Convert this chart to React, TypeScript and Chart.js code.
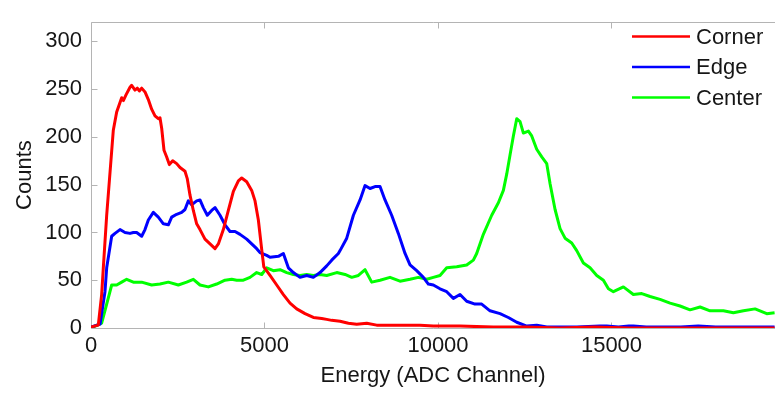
import React, { useEffect, useRef } from "react";
import { Chart, registerables } from "chart.js";

Chart.register(...registerables);

// ---- Data ----
const cornerEnergy = [0, 210, 307, 355, 452, 643, 740, 836, 884, 932, 1009, 1124, 1172, 1268, 1335, 1393, 1460, 1556, 1652, 1748, 1844, 1940, 1988, 2037, 2104, 2181, 2258, 2354, 2469, 2565, 2709, 2776, 2853, 2949, 3045, 3141, 3285, 3430, 3574, 3670, 3814, 3958, 4103, 4247, 4343, 4487, 4631, 4727, 4823, 4920, 4980, 5159, 5352, 5544, 5736, 5928, 6168, 6408, 6649, 6793, 6937, 7177, 7418, 7658, 7946, 8233, 8905, 9482, 9866, 10635, 11596, 12500, 13500, 14500, 15500, 16500, 19700];
const cornerCounts = [1, 3, 35, 63, 118, 207, 226, 236, 241, 238, 244, 252, 254, 249, 251, 248, 251, 247, 239, 229, 222, 219, 220, 209, 186, 179, 171, 175, 172, 168, 164, 156, 139, 123, 109, 103, 93, 88, 83, 88, 103, 123, 143, 154, 157, 153, 144, 133, 113, 82, 64, 55, 45, 35, 26, 20, 15, 11, 10, 9, 8, 7, 5, 4, 5, 3, 3, 3, 2, 2, 1, 1, 0, 1, 0, 0, 0];

const edgeEnergy = [0, 260, 403, 452, 596, 692, 836, 980, 1124, 1220, 1316, 1460, 1556, 1652, 1796, 1940, 2085, 2229, 2325, 2469, 2613, 2709, 2805, 2901, 3045, 3141, 3237, 3352, 3478, 3574, 3718, 3862, 4006, 4151, 4295, 4487, 4631, 4775, 4870, 5063, 5159, 5400, 5544, 5688, 5832, 6024, 6216, 6408, 6600, 6793, 6937, 7129, 7177, 7370, 7562, 7754, 7898, 8041, 8185, 8329, 8473, 8665, 8857, 9050, 9194, 9386, 9578, 9722, 9866, 10058, 10251, 10443, 10635, 10827, 11067, 11259, 11499, 11788, 12027, 12269, 12557, 12845, 13134, 14000, 14670, 14863, 15200, 15500, 15631, 16000, 17000, 17500, 18000, 19700];
const edgeCounts = [1, 4, 38, 63, 96, 99, 103, 100, 99, 100, 100, 96, 103, 113, 121, 116, 109, 108, 116, 119, 121, 124, 133, 129, 133, 134, 126, 118, 123, 126, 118, 108, 101, 101, 98, 93, 88, 83, 79, 76, 74, 75, 78, 63, 58, 53, 55, 53, 58, 65, 71, 78, 81, 94, 118, 134, 149, 146, 148, 148, 134, 118, 99, 78, 66, 60, 53, 46, 45, 41, 38, 31, 35, 28, 25, 25, 18, 15, 11, 6, 2, 3, 1, 1, 2, 2, 1, 2, 2, 1, 1, 2, 1, 1];

const centerEnergy = [0, 307, 452, 596, 740, 884, 1028, 1220, 1460, 1748, 1988, 2229, 2517, 2757, 2949, 3141, 3381, 3622, 3862, 4055, 4199, 4391, 4583, 4775, 4920, 5063, 5255, 5448, 5640, 5832, 6024, 6216, 6408, 6600, 6793, 7081, 7321, 7514, 7706, 7898, 8089, 8329, 8617, 8905, 9194, 9434, 9674, 9866, 10058, 10251, 10539, 10827, 11019, 11115, 11307, 11548, 11740, 11884, 11980, 12076, 12172, 12269, 12365, 12461, 12605, 12701, 12845, 12990, 13134, 13230, 13374, 13518, 13662, 13854, 13998, 14190, 14382, 14575, 14767, 14911, 15055, 15343, 15631, 15872, 16112, 16400, 16688, 16976, 17264, 17553, 17841, 18225, 18513, 18802, 19138, 19474, 19700];
const centerCounts = [0, 5, 25, 45, 45, 48, 51, 48, 48, 45, 46, 48, 45, 48, 51, 45, 43, 46, 50, 51, 50, 50, 53, 58, 56, 63, 60, 61, 58, 56, 55, 56, 55, 56, 55, 58, 56, 53, 55, 61, 48, 50, 53, 49, 51, 53, 51, 53, 55, 63, 64, 66, 71, 78, 98, 118, 131, 144, 161, 181, 201, 219, 216, 204, 206, 201, 187, 179, 172, 151, 124, 104, 94, 89, 81, 68, 63, 55, 50, 41, 38, 43, 35, 36, 33, 30, 26, 23, 19, 22, 18, 18, 16, 18, 20, 15, 16];

const seriesNames = ["Corner", "Edge", "Center"];
const seriesColors = ["#ff0000", "#0000ff", "#00ff00"];
const xTicks = [0, 5000, 10000, 15000];
const yTicks = [0, 50, 100, 150, 200, 250, 300];
const xTitle = "Energy (ADC Channel)";
const yTitle = "Counts";

const FONT = "'Liberation Sans', Arial, sans-serif";
const AXIS_COLOR = "#b4b4b4";
const TEXT_COLOR = "#161616";

function toPoints(xs: number[], ys: number[]) {
  return xs.map((x, i) => ({ x, y: ys[i] }));
}

export default function App() {
  const ref = useRef<HTMLCanvasElement>(null);

  useEffect(() => {
    if (!ref.current) return;

    const framePlugin = {
      id: "frame",
      beforeDatasetsDraw(chart: any) {
        const { ctx, chartArea } = chart;
        const xs = chart.scales.x;
        const ys = chart.scales.y;
        ctx.save();
        ctx.strokeStyle = AXIS_COLOR;
        ctx.lineWidth = 1;
        ctx.beginPath();
        const L = Math.round(chartArea.left) + 0.5;
        const T = Math.round(chartArea.top) + 0.5;
        const B = Math.round(chartArea.bottom) + 0.5;
        const R = chartArea.right + 1;
        ctx.moveTo(R, T);
        ctx.lineTo(L, T);
        ctx.lineTo(L, B);
        ctx.lineTo(R, B);
        const tl = 6;
        xTicks.forEach((v) => {
          const px = Math.round(xs.getPixelForValue(v)) + 0.5;
          ctx.moveTo(px, B);
          ctx.lineTo(px, B - tl);
          ctx.moveTo(px, T);
          ctx.lineTo(px, T + tl);
        });
        yTicks.forEach((v) => {
          const py = Math.round(ys.getPixelForValue(v)) + 0.5;
          ctx.moveTo(L, py);
          ctx.lineTo(L + tl, py);
        });
        ctx.stroke();
        ctx.restore();
      },
      afterDraw(chart: any) {
        const { ctx } = chart;
        ctx.save();
        ctx.font = `22px ${FONT}`;
        ctx.textBaseline = "middle";
        ctx.textAlign = "left";
        seriesNames.forEach((name, i) => {
          const y = 36.5 + i * 30.5;
          ctx.strokeStyle = seriesColors[i];
          ctx.lineWidth = 2.5;
          ctx.beginPath();
          ctx.moveTo(632, y);
          ctx.lineTo(690, y);
          ctx.stroke();
          ctx.fillStyle = TEXT_COLOR;
          ctx.fillText(name, 696, y + 1);
        });
        ctx.restore();
      },
    };

    const chart = new Chart(ref.current, {
      type: "line",
      data: {
        datasets: [
          { label: seriesNames[0], data: toPoints(cornerEnergy, cornerCounts) },
          { label: seriesNames[1], data: toPoints(edgeEnergy, edgeCounts) },
          { label: seriesNames[2], data: toPoints(centerEnergy, centerCounts) },
        ].map((d, i) => ({
          ...d,
          borderColor: seriesColors[i],
          backgroundColor: seriesColors[i],
          borderWidth: 3,
          pointRadius: 0,
          tension: 0,
          fill: false,
          borderJoinStyle: "round",
        })),
      },
      options: {
        responsive: false,
        animation: false,
        events: [],
        layout: { padding: { top: 8, left: 0, right: 0, bottom: 0 } },
        plugins: {
          legend: { display: false },
          tooltip: { enabled: false },
        },
        scales: {
          x: {
            type: "linear",
            min: 0,
            max: 19712,
            grid: { display: false, drawTicks: false },
            border: { display: false },
            afterBuildTicks: (scale: any) => {
              scale.ticks = xTicks.map((v) => ({ value: v }));
            },
            afterFit: (scale: any) => {
              scale.height = 67;
            },
            ticks: {
              color: TEXT_COLOR,
              font: { family: FONT, size: 22 },
              padding: 5,
              maxRotation: 0,
              autoSkip: false,
              callback: (v: any) => String(v),
            },
            title: {
              display: true,
              text: xTitle,
              color: TEXT_COLOR,
              font: { family: FONT, size: 22 },
              padding: { top: 0, bottom: 6 },
            },
          },
          y: {
            type: "linear",
            min: 0,
            max: 320,
            grid: { display: false, drawTicks: false },
            border: { display: false },
            afterBuildTicks: (scale: any) => {
              scale.ticks = yTicks.map((v) => ({ value: v }));
            },
            afterFit: (scale: any) => {
              scale.width = 91;
            },
            ticks: {
              color: TEXT_COLOR,
              font: { family: FONT, size: 22 },
              padding: 9,
              autoSkip: false,
              callback: (v: any) => String(v),
            },
            title: {
              display: true,
              text: yTitle,
              color: TEXT_COLOR,
              font: { family: FONT, size: 22 },
              padding: { top: 12, bottom: 0 },
            },
          },
        },
      },
      plugins: [framePlugin],
    } as any);

    return () => chart.destroy();
  }, []);

  return (
    <div style={{ position: "fixed", left: 0, top: 0, width: 775, height: 395, background: "#ffffff", overflow: "hidden" }}>
      <canvas ref={ref} width={775} height={395} style={{ display: "block", width: 775, height: 395 }} />
    </div>
  );
}
